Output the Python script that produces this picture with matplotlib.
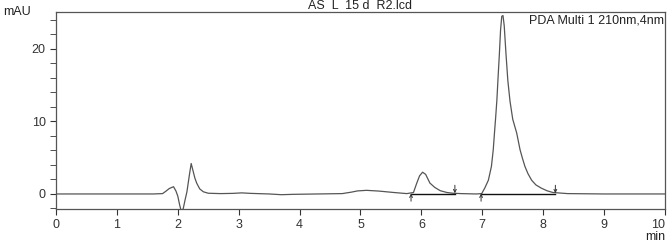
import matplotlib.pyplot as plt
from matplotlib.ticker import MultipleLocator

plt.rcParams['font.family'] = ['Liberation Sans', 'DejaVu Sans']

# chromatogram trace (min, mAU)
t = [0.0, 1.0, 1.60, 1.75, 1.80, 1.86, 1.93, 1.97, 2.00, 2.03, 2.06, 2.09,
     2.12, 2.15, 2.19, 2.22, 2.25, 2.28, 2.31, 2.36, 2.42, 2.50, 2.70, 2.90,
     3.05, 3.20, 3.50, 3.70, 3.90, 4.30, 4.70, 4.85, 4.95, 5.10, 5.30, 5.55,
     5.76, 5.87, 5.92, 5.97, 6.02, 6.07, 6.14, 6.22, 6.31, 6.42, 6.52, 6.65,
     6.90, 6.99, 7.04, 7.10, 7.15, 7.18, 7.20, 7.22, 7.24, 7.26, 7.28, 7.30,
     7.32, 7.34, 7.36, 7.39, 7.42, 7.455, 7.50, 7.565, 7.62, 7.66, 7.70, 7.75,
     7.81, 7.88, 7.97, 8.06, 8.16, 8.40, 9.0, 10.0]
mau = [0.0, 0.0, 0.0, 0.05, 0.35, 0.75, 1.0, 0.4, -0.3, -1.5, -2.5, -2.0,
       -0.8, 0.3, 2.6, 4.2, 3.2, 2.2, 1.5, 0.7, 0.3, 0.1, 0.05, 0.08,
       0.15, 0.08, 0.0, -0.1, -0.05, 0.0, 0.05, 0.25, 0.42, 0.5, 0.4, 0.2,
       0.05, 0.2, 1.4, 2.5, 3.0, 2.7, 1.5, 0.9, 0.45, 0.2, 0.1, 0.05,
       0.0, 0.05, 0.8, 1.9, 3.8, 6.1, 8.4, 10.6, 13.0, 16.2, 19.2, 22.6,
       24.5, 24.6, 23.2, 19.2, 15.6, 12.8, 10.3, 8.4, 6.1, 4.9, 3.8, 2.8,
       1.9, 1.25, 0.8, 0.45, 0.2, 0.05, 0.0, 0.0]

# peak integration marks
starts = [5.83, 6.98]
ends = [6.55, 8.20]

fig = plt.figure(figsize=(6.69, 2.43), dpi=100)
ax = fig.add_axes([0.0837, 0.14, 0.9103, 0.811])
ax.plot(t, mau, color='#555555', lw=0.9)

for s, e in zip(starts, ends):
    ax.plot([s, e], [0, 0], color='#111111', lw=1.0)
    ax.annotate('', xy=(s, 0.05), xytext=(s, -1.0),
                arrowprops=dict(arrowstyle='->', color='#333333', lw=0.7, shrinkA=0, shrinkB=0, mutation_scale=5))
    ax.annotate('', xy=(e, 0.1), xytext=(e, 1.2),
                arrowprops=dict(arrowstyle='->', color='#333333', lw=0.7, shrinkA=0, shrinkB=0, mutation_scale=5))

ax.set_xlim(0, 10)
ax.set_ylim(-2.07, 25.1)
ax.set_xticks(range(11), [str(i) for i in range(11)])
ax.yaxis.set_major_locator(MultipleLocator(10))
ax.yaxis.set_minor_locator(MultipleLocator(2))
ax.tick_params(axis='both', direction='out', labelsize=9, colors='#333333', length=4)
ax.tick_params(axis='y', which='minor', length=4, colors='#333333')
for sp in ax.spines.values():
    sp.set_color('#555555')
    sp.set_linewidth(0.9)
ax.xaxis.get_major_ticks()[-1].label1.set_horizontalalignment('right')

ax.set_title('AS  L  15 d  R2.lcd', fontsize=9, pad=1, color='#222222')
fig.text(0.004, 0.95, 'mAU', fontsize=9, va='center', ha='left', color='#222222')
fig.text(0.994, 0.0, 'min', fontsize=9, ha='right', va='bottom', color='#222222')
ax.text(0.998, 0.985, 'PDA Multi 1 210nm,4nm', transform=ax.transAxes,
        fontsize=9, ha='right', va='top', color='#222222')

fig.savefig('out.png', dpi=100)
